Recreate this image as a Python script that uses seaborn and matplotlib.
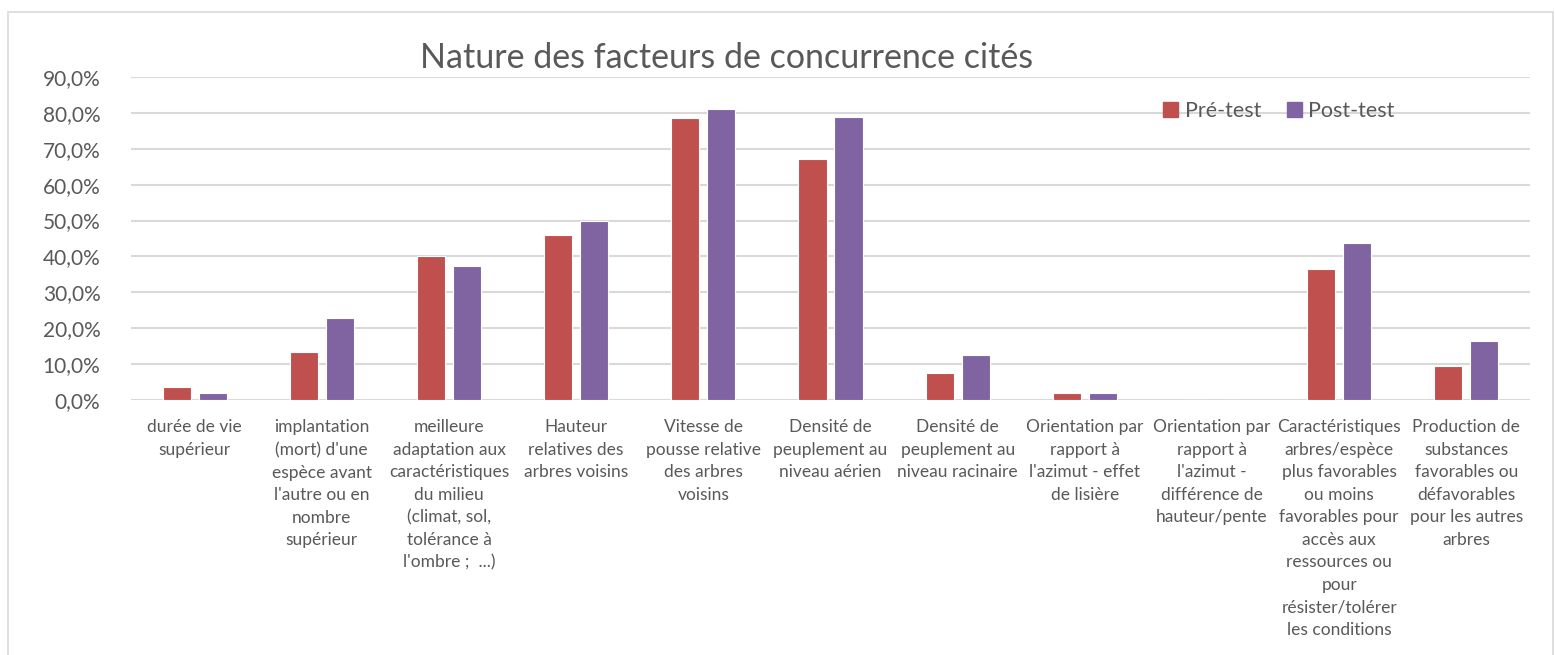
import pandas as pd
import seaborn as sns
import matplotlib.pyplot as plt
from matplotlib.patches import Rectangle, Patch

# Categories (with the line breaks of the original chart)
categories = [
    "durée de vie\nsupérieur",
    "implantation\n(mort) d'une\nespèce avant\nl'autre ou en\nnombre\nsupérieur",
    "meilleure\nadaptation aux\ncaractéristiques\ndu milieu\n(climat, sol,\ntolérance à\nl'ombre ;  ...)",
    "Hauteur\nrelatives des\narbres voisins",
    "Vitesse de\npousse relative\ndes arbres\nvoisins",
    "Densité de\npeuplement au\nniveau aérien",
    "Densité de\npeuplement au\nniveau racinaire",
    "Orientation par\nrapport à\nl'azimut - effet\nde lisière",
    "Orientation par\nrapport à\nl'azimut -\ndifférence de\nhauteur/pente",
    "Caractéristiques\narbres/espèce\nplus favorables\nou moins\nfavorables pour\naccès aux\nressources ou\npour\nrésister/tolérer\nles conditions",
    "Production de\nsubstances\nfavorables ou\ndéfavorables\npour les autres\narbres",
]
pre_test = [3.7, 13.4, 40.2, 46.1, 78.7, 67.1, 7.6, 1.9, 0.0, 36.4, 9.5]
post_test = [2.0, 22.8, 37.4, 49.9, 81.1, 78.9, 12.5, 1.9, 0.0, 43.7, 16.5]
series = ["Pré-test", "Post-test"]
colors = ["#C0504D", "#8064A2"]

# Long-form table for seaborn
df = pd.DataFrame({
    "categorie": categories * 2,
    "valeur": pre_test + post_test,
    "serie": [series[0]] * len(categories) + [series[1]] * len(categories),
})

sns.set_theme(style="white")
plt.rcParams['font.family'] = ['Lato', 'DejaVu Sans']
text_color = "#595959"

fig = plt.figure(figsize=(15.55, 6.55), dpi=100)
ax = fig.add_axes([131 / 1555, 1 - 400 / 655, (1530 - 131) / 1555, (400 - 77) / 655])

sns.barplot(data=df, x="categorie", y="valeur", hue="serie", palette=colors,
            saturation=1, width=0.566, gap=0.22, edgecolor="white",
            linewidth=0.8, legend=False, ax=ax)

ax.set_ylim(0, 90)
ax.set_xlim(-0.5, len(categories) - 0.5)
ax.set_yticks(range(0, 91, 10))
ax.set_yticklabels([f"{v:.1f}%".replace(".", ",") for v in range(0, 91, 10)],
                   fontsize=15, color=text_color)
ax.set_xticks(range(len(categories)))
ax.set_xticklabels(categories, fontsize=12.5, color=text_color,
                   linespacing=1.5, va="top")
ax.tick_params(axis="x", length=0, pad=14)
ax.tick_params(axis="y", length=0, pad=22)
ax.set_xlabel("")
ax.set_ylabel("")

# Horizontal gridlines like Excel
ax.yaxis.grid(True, color="#D9D9D9", linewidth=1.5)
ax.set_axisbelow(True)
for s in ax.spines.values():
    s.set_visible(False)

fig.text(727 / 1555, 1 - 58 / 655, "Nature des facteurs de concurrence cités",
         ha="center", va="center", fontsize=24.5, color=text_color)

handles = [Patch(facecolor=c, edgecolor=c) for c in colors]
fig.legend(handles, series, loc="center left",
           bbox_to_anchor=(1163 / 1555, 1 - 111 / 655), ncol=2, frameon=False,
           fontsize=15.5, labelcolor=text_color, handlelength=0.7, handleheight=0.7,
           handletextpad=0.3, columnspacing=1.2, borderpad=0, borderaxespad=0)

# Outer chart border
fig.patches.append(Rectangle((8 / 1555, -0.05), (1553 - 8) / 1555, 1.05 - 12 / 655,
                             transform=fig.transFigure, fill=False,
                             edgecolor="#D9D9D9", linewidth=1.2))

plt.savefig("out.png", dpi=100)
